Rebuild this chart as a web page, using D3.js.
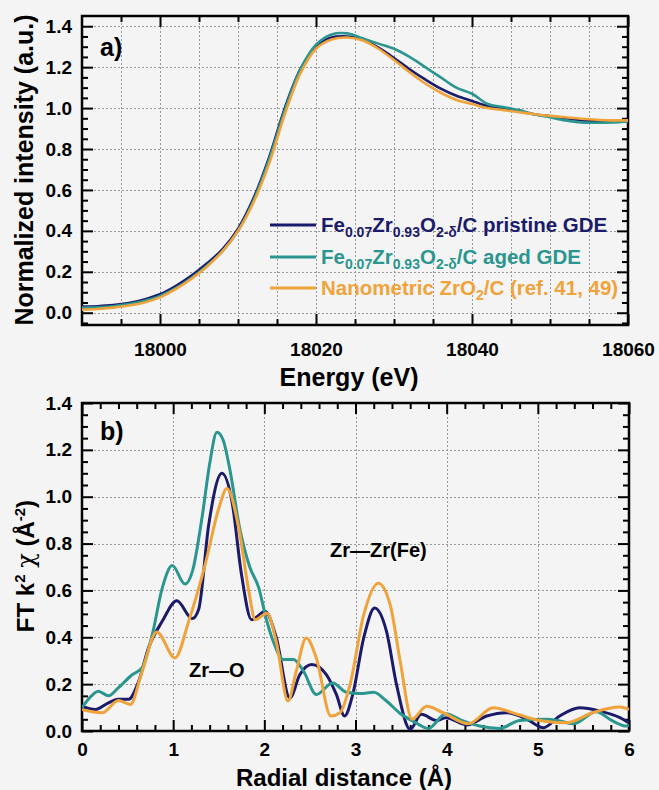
<!DOCTYPE html>
<html>
<head>
<meta charset="utf-8">
<script src="https://cdn.jsdelivr.net/npm/d3@7"></script>
<style>
  body { margin: 0; background: #f4f4f4; }
  svg { display: block; font-family: "Liberation Sans", Arial, sans-serif; font-weight: bold; }
</style>
</head>
<body>
<svg id="chart" width="659" height="790"></svg>
<script>
// ---- panel a: XANES ----
var energy = [17990, 17992, 17994, 17996, 17998, 18000, 18002, 18004, 18006, 18008, 18010, 18012,
  18014, 18016, 18018, 18020, 18022, 18024, 18026, 18028, 18030, 18032, 18034, 18036,
  18038, 18040, 18042, 18044, 18046, 18048, 18050, 18052, 18054, 18056, 18058, 18060]

var xanesPristine = [0.03, 0.032, 0.037, 0.047, 0.065, 0.09, 0.13, 0.18, 0.24, 0.31, 0.41, 0.56,
  0.76, 1.0, 1.19, 1.30, 1.345, 1.35, 1.335, 1.295, 1.245, 1.19, 1.14, 1.095,
  1.06, 1.035, 1.01, 1.0, 0.985, 0.97, 0.96, 0.95, 0.94, 0.935, 0.935, 0.937]

var xanesAged = [0.025, 0.027, 0.032, 0.042, 0.058, 0.082, 0.12, 0.17, 0.23, 0.3, 0.4, 0.55,
  0.75, 0.99, 1.19, 1.31, 1.36, 1.365, 1.34, 1.315, 1.29, 1.25, 1.2, 1.15,
  1.1, 1.07, 1.02, 1.005, 0.99, 0.97, 0.955, 0.94, 0.93, 0.928, 0.93, 0.935]

var xanesZrO2 = [0.015, 0.018, 0.025, 0.035, 0.05, 0.075, 0.115, 0.165, 0.225, 0.3, 0.4, 0.54,
  0.73, 0.97, 1.17, 1.29, 1.335, 1.345, 1.33, 1.29, 1.235, 1.175, 1.12, 1.075,
  1.04, 1.02, 1.0, 0.99, 0.98, 0.97, 0.962, 0.955, 0.948, 0.943, 0.94, 0.94]

// ---- panel b: FT EXAFS, [r, value] ----
var ftPristine = [[0,0.106],[0.146,0.092],[0.29,0.12],[0.40,0.135],[0.51,0.135],[0.62,0.21],[0.73,0.355],
  [0.88,0.468],[1.04,0.556],[1.21,0.48],[1.28,0.52],[1.39,0.88],[1.535,1.10],[1.645,0.98],[1.75,0.667],
  [1.86,0.475],[2.01,0.51],[2.13,0.40],[2.28,0.141],[2.39,0.241],[2.52,0.284],[2.68,0.241],[2.79,0.156],
  [2.88,0.064],[2.97,0.156],[3.09,0.397],[3.21,0.525],[3.34,0.425],[3.45,0.198],[3.60,0.007],[3.72,0.071],
  [3.89,0.045],[3.99,0.057],[4.22,0.026],[4.44,0.064],[4.66,0.078],[4.88,0.05],[5.06,0.014],[5.24,0.064],
  [5.46,0.099],[5.68,0.085],[5.9,0.057],[6.0,0.035]]

var ftAged = [[0,0.10],[0.08,0.14],[0.18,0.17],[0.29,0.15],[0.40,0.185],[0.55,0.24],[0.66,0.27],[0.77,0.41],
  [0.88,0.61],[0.99,0.706],[1.13,0.627],[1.21,0.68],[1.32,0.92],[1.40,1.14],[1.48,1.275],[1.55,1.24],
  [1.62,1.12],[1.73,0.865],[1.84,0.70],[1.94,0.61],[2.02,0.48],[2.10,0.38],[2.21,0.305],[2.32,0.305],
  [2.43,0.255],[2.57,0.156],[2.75,0.205],[2.90,0.165],[3.05,0.16],[3.20,0.165],[3.34,0.128],[3.49,0.075],
  [3.64,0.04],[3.80,0.011],[3.99,0.074],[4.18,0.043],[4.36,0.021],[4.58,0.011],[4.80,0.045],[5.09,0.05],
  [5.24,0.043],[5.39,0.031],[5.64,0.082],[5.82,0.043],[5.97,0.021],[6.0,0.025]]

var ftZrO2 = [[0,0.092],[0.22,0.078],[0.40,0.13],[0.53,0.113],[0.66,0.255],[0.82,0.423],[1.02,0.312],
  [1.17,0.468],[1.35,0.709],[1.50,0.95],[1.59,1.035],[1.72,0.865],[1.83,0.596],[1.90,0.475],[2.03,0.503],
  [2.13,0.383],[2.26,0.128],[2.35,0.255],[2.46,0.397],[2.57,0.312],[2.73,0.064],[2.83,0.078],[2.94,0.198],
  [3.09,0.496],[3.25,0.631],[3.38,0.539],[3.49,0.298],[3.62,0.05],[3.78,0.106],[3.96,0.078],[4.24,0.031],
  [4.51,0.099],[4.80,0.068],[5.02,0.045],[5.31,0.035],[5.60,0.078],[5.90,0.102],[6.0,0.092]]

var colors = ['#1b1b6b', '#2a968f', '#f0a33a']

// ticks
var energyTicks = [18000, 18020, 18040, 18060]
var intensityTicks = [0.0, 0.2, 0.4, 0.6, 0.8, 1.0, 1.2, 1.4]
var radialTicks = [0, 1, 2, 3, 4, 5, 6]
var ftTicks = [0.0, 0.2, 0.4, 0.6, 0.8, 1.0, 1.2, 1.4]

var svg = d3.select('#chart')

function drawFrame(g, x, y, cfg) {
    var x0 = x.range()[0], x1 = x.range()[1]
    var y0 = y.range()[0], y1 = y.range()[1]

    // dotted grid
    g.append('g').selectAll('line').data(cfg.xGrid).join('line')
        .attr('x1', d => Math.round(x(d)) + 0.5).attr('x2', d => Math.round(x(d)) + 0.5).attr('y1', y0).attr('y2', y1)
        .attr('stroke', '#999').attr('stroke-width', 1).attr('stroke-dasharray', '2,2')
    g.append('g').selectAll('line').data(cfg.yGrid).join('line')
        .attr('y1', d => Math.round(y(d)) + 0.5).attr('y2', d => Math.round(y(d)) + 0.5).attr('x1', x0).attr('x2', x1)
        .attr('stroke', '#999').attr('stroke-width', 1).attr('stroke-dasharray', '2,2')

    var axes = g.append('g').attr('class', 'axes')
    axes.append('g').attr('transform', 'translate(0,' + y0 + ')')
        .call(d3.axisBottom(x).tickValues(cfg.xMajor).tickSize(-11).tickPadding(cfg.xPad).tickFormat(cfg.xFmt))
    axes.append('g').attr('transform', 'translate(0,' + y0 + ')')
        .call(d3.axisBottom(x).tickValues(cfg.xMinor).tickSize(-6).tickFormat(''))
    axes.append('g').attr('transform', 'translate(0,' + y1 + ')')
        .call(d3.axisTop(x).tickValues(cfg.xMajor).tickSize(-11).tickFormat(''))
    axes.append('g').attr('transform', 'translate(0,' + y1 + ')')
        .call(d3.axisTop(x).tickValues(cfg.xMinor).tickSize(-6).tickFormat(''))
    axes.append('g').attr('transform', 'translate(' + x0 + ',0)')
        .call(d3.axisLeft(y).tickValues(cfg.yMajor).tickSize(-11).tickPadding(10).tickFormat(d3.format('.1f')))
    axes.append('g').attr('transform', 'translate(' + x0 + ',0)')
        .call(d3.axisLeft(y).tickValues(cfg.yMinor).tickSize(-6).tickFormat(''))
    axes.append('g').attr('transform', 'translate(' + x1 + ',0)')
        .call(d3.axisRight(y).tickValues(cfg.yMajor).tickSize(-11).tickFormat(''))
    axes.append('g').attr('transform', 'translate(' + x1 + ',0)')
        .call(d3.axisRight(y).tickValues(cfg.yMinor).tickSize(-6).tickFormat(''))

    axes.selectAll('.domain').remove()
    axes.selectAll('.tick line').attr('stroke', '#000').attr('stroke-width', 2)
    axes.selectAll('.tick text').attr('fill', '#000').attr('font-size', 19)
        .attr('font-family', '"Liberation Sans", Arial, sans-serif').attr('font-weight', 'bold')

    g.append('rect')
        .attr('x', x0).attr('y', y1).attr('width', x1 - x0).attr('height', y0 - y1)
        .attr('fill', 'none').attr('stroke', '#000').attr('stroke-width', 2.5)
}

// ================= panel a =================
var xa = d3.scaleLinear().domain([17990, 18060]).range([82, 628])
var ya = d3.scaleLinear().domain([-0.06, 1.45]).range([325, 16])

var ga = svg.append('g')
svg.append('clipPath').attr('id', 'clipA').append('rect')
    .attr('x', 82).attr('y', 16).attr('width', 546).attr('height', 309)

var lineA = d3.line()
    .curve(d3.curveCatmullRom.alpha(0.5))
    .x(function(d, i) { return xa(energy[i]) })
    .y(function(d) { return ya(d) })

var xanes = [xanesPristine, xanesAged, xanesZrO2]

drawFrame(ga, xa, ya, {
    xGrid: d3.range(17995, 18060, 5), yGrid: intensityTicks,
    xMajor: energyTicks, xMinor: d3.range(17995, 18060, 5).filter(d => energyTicks.indexOf(d) < 0),
    yMajor: intensityTicks, yMinor: d3.range(-0.05, 1.45, 0.05).filter(d => Math.abs(Math.round(d * 5) - d * 5) > 0.01),
    xPad: 18, xFmt: d3.format('d')
})

ga.append('g').attr('clip-path', 'url(#clipA)')
    .selectAll('path').data(xanes).join('path')
    .attr('fill', 'none')
    .attr('stroke', (d, i) => colors[i])
    .attr('stroke-width', 2.6)
    .attr('d', lineA)

ga.append('text').attr('x', 100).attr('y', 56).attr('font-size', 25).text('a)')

// legend
var legendY = [225, 257, 288]
var leg = ga.append('g').attr('font-size', 20.5)
legendY.forEach(function(yy, i) {
    leg.append('line').attr('x1', 270).attr('x2', 316).attr('y1', yy).attr('y2', yy)
        .attr('stroke', colors[i]).attr('stroke-width', 3)
})
function formula(t, suffix) {
    t.append('tspan').text('Fe')
    t.append('tspan').attr('font-size', 14).attr('dy', 5).text('0.07')
    t.append('tspan').attr('dy', -5).text('Zr')
    t.append('tspan').attr('font-size', 14).attr('dy', 5).text('0.93')
    t.append('tspan').attr('dy', -5).text('O')
    t.append('tspan').attr('font-size', 14).attr('dy', 5).text('2-δ')
    t.append('tspan').attr('dy', -5).text(suffix)
}
formula(leg.append('text').attr('x', 321).attr('y', legendY[0] + 7).attr('fill', colors[0]), '/C pristine GDE')
formula(leg.append('text').attr('x', 321).attr('y', legendY[1] + 7).attr('fill', colors[1]), '/C aged GDE')
var t3 = leg.append('text').attr('x', 321).attr('y', legendY[2] + 7).attr('fill', colors[2])
t3.append('tspan').text('Nanometric ZrO')
t3.append('tspan').attr('font-size', 14).attr('dy', 5).text('2')
t3.append('tspan').attr('dy', -5).text('/C (ref. 41, 49)')

svg.append('text').attr('x', 349).attr('y', 386).attr('text-anchor', 'middle')
    .attr('font-size', 25).text('Energy (eV)')
svg.append('text').attr('transform', 'translate(33,170) rotate(-90)').attr('text-anchor', 'middle')
    .attr('font-size', 25).text('Normalized intensity (a.u.)')

// ================= panel b =================
var xb = d3.scaleLinear().domain([0, 6]).range([82, 629])
var yb = d3.scaleLinear().domain([0, 1.4]).range([731, 403])

var gb = svg.append('g')
svg.append('clipPath').attr('id', 'clipB').append('rect')
    .attr('x', 82).attr('y', 403).attr('width', 547).attr('height', 328)

drawFrame(gb, xb, yb, {
    xGrid: [1, 2, 3, 4, 5], yGrid: ftTicks,
    xMajor: radialTicks, xMinor: d3.range(0.2, 6, 0.2).filter(d => Math.abs(d - Math.round(d)) > 0.01),
    yMajor: ftTicks, yMinor: d3.range(0.05, 1.4, 0.05).filter(d => Math.abs(Math.round(d * 5) - d * 5) > 0.01),
    xPad: 12, xFmt: d3.format('d')
})

var lineB = d3.line()
    .curve(d3.curveMonotoneX)
    .x(d => xb(d[0]))
    .y(d => yb(d[1]))

gb.append('g').attr('clip-path', 'url(#clipB)')
    .selectAll('path').data([ftPristine, ftAged, ftZrO2]).join('path')
    .attr('fill', 'none')
    .attr('stroke', (d, i) => colors[i])
    .attr('stroke-width', 3)
    .attr('d', lineB)

gb.append('text').attr('x', 100).attr('y', 440).attr('font-size', 25).text('b)')
gb.append('text').attr('x', 189).attr('y', 677).attr('font-size', 20).text('Zr—O')
gb.append('text').attr('x', 330).attr('y', 557).attr('font-size', 20).text('Zr—Zr(Fe)')

svg.append('text').attr('x', 344).attr('y', 786).attr('text-anchor', 'middle')
    .attr('font-size', 24).text('Radial distance (Å)')
var yt = svg.append('text').attr('transform', 'translate(34,566) rotate(-90)').attr('text-anchor', 'middle')
    .attr('font-size', 24)
yt.append('tspan').text('FT k')
yt.append('tspan').attr('font-size', 15).attr('dy', -9).text('2')
yt.append('tspan').attr('dy', 9).text(' ')
yt.append('tspan').attr('font-weight', 'normal').attr('font-family', '"DejaVu Serif", serif').text('χ')
yt.append('tspan').text(' (Å')
yt.append('tspan').attr('font-size', 15).attr('dy', -9).text('-2')
yt.append('tspan').attr('dy', 9).text(')')
</script>
</body>
</html>
